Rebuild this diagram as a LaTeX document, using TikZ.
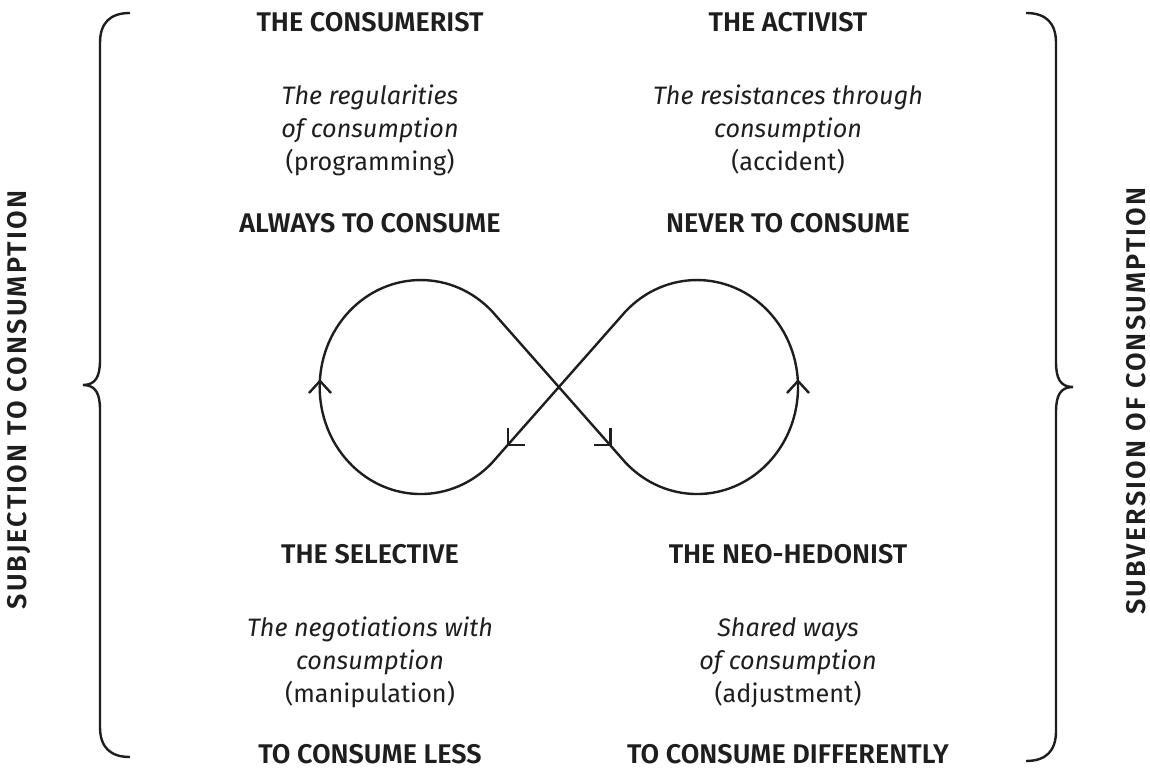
\documentclass[tikz,border=0pt]{standalone}
\usepackage{fontspec}
\setmainfont{Fira Sans}[BoldFont={* SemiBold}]
\definecolor{ink}{HTML}{1E1E1E}
\begin{document}
\begin{tikzpicture}[x=1pt,y=1pt,
  title/.style={font=\bfseries\fontsize{27}{30}\selectfont, text=ink, anchor=base, inner sep=0pt},
  desc/.style={font=\fontsize{25.2}{33}\selectfont, text=ink, align=center, anchor=base, inner sep=0pt},
  side/.style={font=\bfseries\fontsize{27}{30}\selectfont\addfontfeatures{LetterSpace=8}, text=ink, anchor=base, inner sep=0pt, rotate=90},
  stroke/.style={line width=2.4pt, draw=ink},
  barb/.style={line width=2.4pt, draw=ink, line join=miter}]
\useasboundingbox (0,0) rectangle (1150,769);
\fill[white] (0,0) rectangle (1150,769);

% top-left quadrant
\node[title] (t1) at (370,737.3) {THE CONSUMERIST};
\node[desc]  (d1) at (370,598.5) {\textit{The regularities}\\\textit{of consumption}\\(programming)};
\node[title] (b1) at (370,536) {ALWAYS TO CONSUME};
% top-right quadrant
\node[title] (t2) at (788,737.3) {THE ACTIVIST};
\node[desc]  (d2) at (788,598.5) {\textit{The resistances through}\\\textit{consumption}\\(accident)};
\node[title] (b2) at (788,536) {NEVER TO CONSUME};
% bottom-left quadrant
\node[title] (t3) at (370,205.7) {THE SELECTIVE};
\node[desc]  (d3) at (370,67) {\textit{The negotiations with}\\\textit{consumption}\\(manipulation)};
\node[title] (b3) at (370,5.5) {TO CONSUME LESS};
% bottom-right quadrant
\node[title] (t4) at (788,205.7) {THE NEO-HEDONIST};
\node[desc]  (d4) at (788,67) {\textit{Shared ways}\\\textit{of consumption}\\(adjustment)};
\node[title] (b4) at (788,5.5) {TO CONSUME DIFFERENTLY};

% side labels
\node[side] (sl) at (27,369) {SUBJECTION TO CONSUMPTION};
\node[side] (sr) at (1145,368) {SUBVERSION OF CONSUMPTION};

% braces
\draw[stroke] (130,756) .. controls (110,756) and (100,746) .. (100,726)
  -- (100,409) .. controls (100,393) and (96,384) .. (83,384)
  .. controls (96,384) and (100,375) .. (100,359)
  -- (100,42) .. controls (100,22) and (110,12) .. (130,12);
\draw[stroke] (1026,756) .. controls (1046,756) and (1056,746) .. (1056,726)
  -- (1056,407) .. controls (1056,391) and (1060,382) .. (1073,382)
  .. controls (1060,382) and (1056,373) .. (1056,357)
  -- (1056,38) .. controls (1056,18) and (1046,8) .. (1026,8);

% infinity loop
\coordinate (L) at (420.7,382);
\coordinate (R) at (697,382);
\coordinate (P1) at (492.1,306.3);
\coordinate (P3) at (625.6,306.3);
\draw[stroke] (P1) arc[start angle=-45, end angle=-315, x radius=101pt, y radius=107pt]
  -- (P3) arc[start angle=225, end angle=495, x radius=101pt, y radius=107pt] -- cycle;

% arrowheads
\draw[barb] (309,376) -- (320,388) -- (331,376);
\draw[barb] (787,376) -- (798,388) -- (809,376);
\draw[barb] (508,341) -- (508,324) -- (525,324);
\draw[barb] (610.5,341) -- (610.5,324) -- (593.5,324);
\end{tikzpicture}
\end{document}
